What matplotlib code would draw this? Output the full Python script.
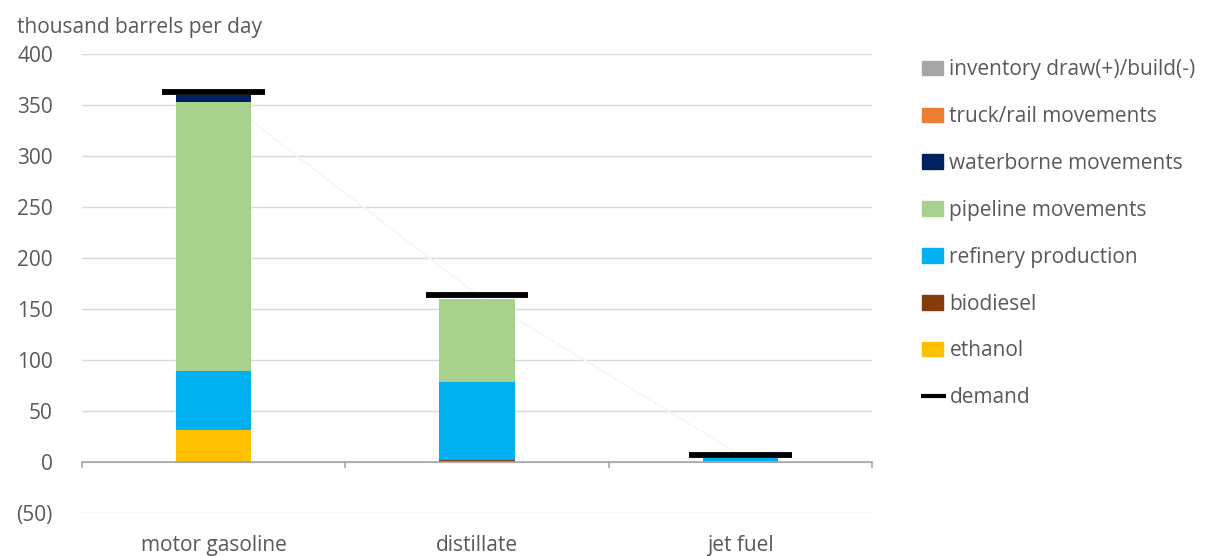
import matplotlib
matplotlib.use("Agg")
import matplotlib.pyplot as plt
import numpy as np
from matplotlib.patches import Patch
from matplotlib.lines import Line2D
from matplotlib.ticker import FuncFormatter

plt.rcParams['font.family'] = ['Open Sans', 'DejaVu Sans']

categories = ["motor gasoline", "distillate", "jet fuel"]
ethanol = [31, 0, 0]
biodiesel = [0, 2, 0]
refinery = [58, 76, 4]
pipeline = [264, 82, 0]
waterborne = [7, 0, 0]
truck_rail = [0, 0, 0]
inventory = [-1, 0, -1]
demand = [363, 164, 7]

series = [
    ("ethanol", ethanol, "#FFC000"),
    ("biodiesel", biodiesel, "#843C0C"),
    ("refinery production", refinery, "#00B0F0"),
    ("pipeline movements", pipeline, "#A9D18E"),
    ("waterborne movements", waterborne, "#002060"),
    ("truck/rail movements", truck_rail, "#ED7D31"),
    ("inventory draw(+)/build(-)", inventory, "#A5A5A5"),
]

TXT = "#595959"
FS = 15
fig = plt.figure(figsize=(12.22, 5.56), dpi=100)
ax = fig.add_axes([82/1222, 43/556, 790/1222, 459/556])

x = np.arange(len(categories))
w = 0.285
pos_bottom = np.zeros(len(x))
neg_bottom = np.zeros(len(x))
for name, vals, col in series:
    v = np.array(vals, dtype=float)
    bottoms = np.where(v >= 0, pos_bottom, neg_bottom)
    ax.bar(x, v, w, bottom=bottoms, color=col, zorder=3, linewidth=0)
    pos_bottom += np.where(v >= 0, v, 0)
    neg_bottom += np.where(v < 0, v, 0)

# faint demand connecting line
ax.plot(x, demand, color="#f6f6f6", lw=1.2, zorder=2)
ax.hlines(demand, x - 0.195, x + 0.195, color="black", lw=4.2, zorder=4)

ax.set_xlim(-0.5, 2.5)
ax.set_ylim(-50, 400)
ax.set_yticks(np.arange(-50, 401, 50))
ax.yaxis.set_major_formatter(FuncFormatter(lambda v, p: f"({abs(int(v))})" if v < 0 else f"{int(v)}"))
ax.grid(axis="y", color="#D9D9D9", lw=1, zorder=0)
for s in ["top", "right", "left", "bottom"]:
    ax.spines[s].set_visible(False)
ax.axhline(0, color="#A6A6A6", lw=1.2, zorder=3.5)
ax.tick_params(axis="y", length=0, labelsize=FS, labelcolor=TXT, pad=21)
ax.set_xticks([])
# category boundary ticks on zero line
for b in np.arange(-0.5, len(x), 1.0):
    ax.plot([b, b], [0, -5], color="#A6A6A6", lw=1.2, zorder=3.5, clip_on=False)
for xi, c in zip(x, categories):
    ax.text(xi, -82, c, ha="center", va="center", fontsize=FS, color=TXT, clip_on=False)

fig.text(17/1222, 1 - 27/556, "thousand barrels per day", fontsize=FS, color=TXT, va="center", ha="left")

handles = [Patch(color=col) for name, vals, col in series[::-1]]
labels = [name for name, vals, col in series[::-1]]
handles.append(Line2D([], [], color="#d9d9d9", lw=1, marker="_", markersize=18,
                      markeredgewidth=3, markeredgecolor="black"))
labels.append("demand")
leg = fig.legend(handles, labels, loc="upper left", bbox_to_anchor=(914/1222, 1 - 51/556),
                 frameon=False, fontsize=FS, labelcolor=TXT, handlelength=1.0,
                 handleheight=0.7, handletextpad=0.3, labelspacing=1.24, borderaxespad=0)

fig.savefig("out.png", dpi=100)
